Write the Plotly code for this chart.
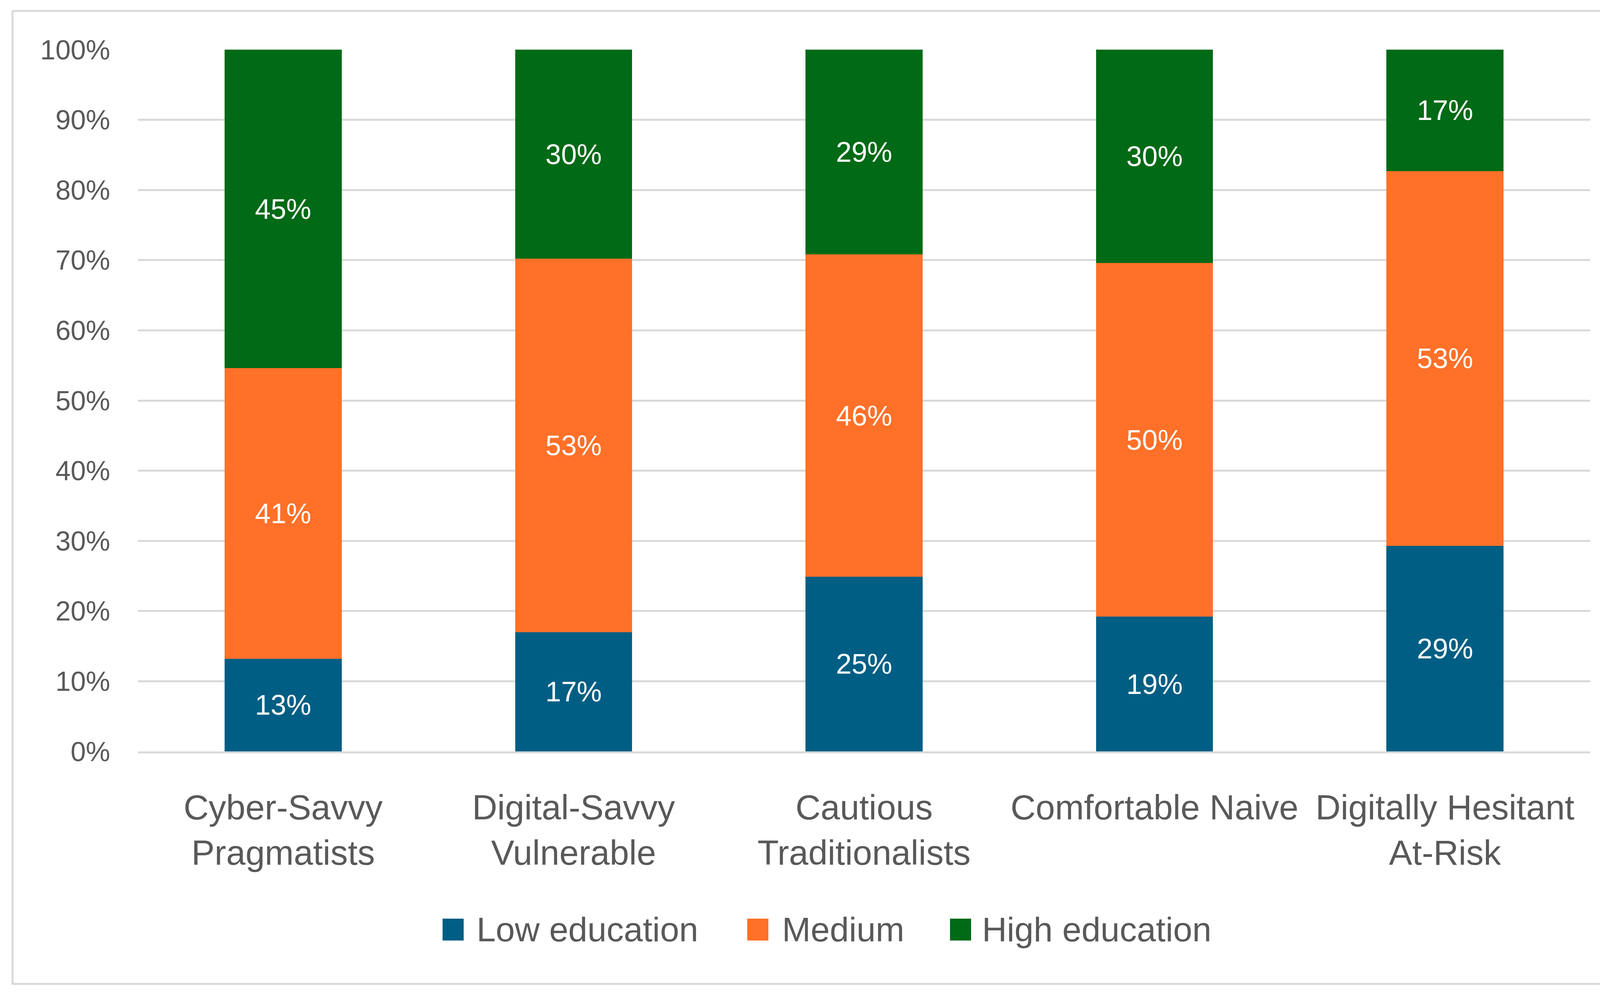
import plotly.graph_objects as go

# Data
segments = [
    "Cyber-Savvy<br>Pragmatists",
    "Digital-Savvy<br>Vulnerable",
    "Cautious<br>Traditionalists",
    "Comfortable Naive",
    "Digitally Hesitant<br>At-Risk",
]
low_education = [13.2, 17.0, 24.9, 19.2, 29.3]
medium = [41.4, 53.2, 45.9, 50.4, 53.4]
high_education = [45.4, 29.8, 29.2, 30.4, 17.3]

series_names = ["Low education", "Medium", "High education"]
colors = ["#005E84", "#FF7028", "#006A16"]

W, H = 4194, 2549
L, R, T, B = 353, 123, 127, 626
FONT = "Liberation Sans, Arial, sans-serif"
GREY = "#595959"


# pixel -> paper helpers (used for the frame and the legend only)
def px_x(X):
    return (X - L) / (W - L - R)


def px_y(Y):
    return (H - B - Y) / (H - T - B)


fig = go.Figure()

for name, vals, col in zip(series_names, [low_education, medium, high_education], colors):
    fig.add_trace(go.Bar(
        x=segments,
        y=vals,
        name=name,
        marker=dict(color=col, line=dict(width=0)),
        texttemplate="%{y:.0f}%",
        textposition="inside",
        insidetextanchor="middle",
        textangle=0,
        textfont=dict(color="white", size=72, family=FONT),
        showlegend=False,
    ))

fig.update_layout(
    barmode="stack",
    bargap=0.597,
    width=W,
    height=H,
    margin=dict(l=L, r=R, t=T, b=B),
    paper_bgcolor="white",
    plot_bgcolor="white",
    font=dict(family=FONT, color=GREY),
)

fig.update_yaxes(
    range=[0, 100],
    dtick=10,
    ticksuffix="%",
    showgrid=True,
    gridcolor="#D9D9D9",
    gridwidth=5,
    zeroline=False,
    showline=False,
    tickfont=dict(size=70, color=GREY),
    ticklabelstandoff=70,
    fixedrange=True,
)
fig.update_xaxes(
    showgrid=False,
    showline=True,
    linecolor="#D9D9D9",
    linewidth=5,
    tickfont=dict(size=89, color=GREY),
    ticklabelstandoff=62,
    range=[-0.5, 4.5],
)

# chart frame
fig.add_shape(type="rect", xref="paper", yref="paper",
              x0=px_x(32), x1=px_x(4167), y0=px_y(2518), y1=px_y(28),
              line=dict(color="#D9D9D9", width=5), fillcolor="rgba(0,0,0,0)", layer="below")

# legend, drawn by hand so the keys can match the original size
legend_sq_x = [1133, 1913, 2432]
legend_text_x = [1218, 2000, 2512]
for name, col, sx, tx in zip(series_names, colors, legend_sq_x, legend_text_x):
    fig.add_shape(type="rect", xref="paper", yref="paper",
                  x0=px_x(sx), x1=px_x(sx + 54), y0=px_y(2407), y1=px_y(2351),
                  line=dict(width=0), fillcolor=col)
    fig.add_annotation(xref="paper", yref="paper", x=px_x(tx), y=px_y(2378),
                       xanchor="left", yanchor="middle", text=name, showarrow=False,
                       font=dict(size=88, color=GREY, family=FONT))

# no page margin, so the figure sits at the window's top-left corner
fig.write_html("out.html", config={"displayModeBar": False},
               post_script="document.body.style.margin = '0';")
